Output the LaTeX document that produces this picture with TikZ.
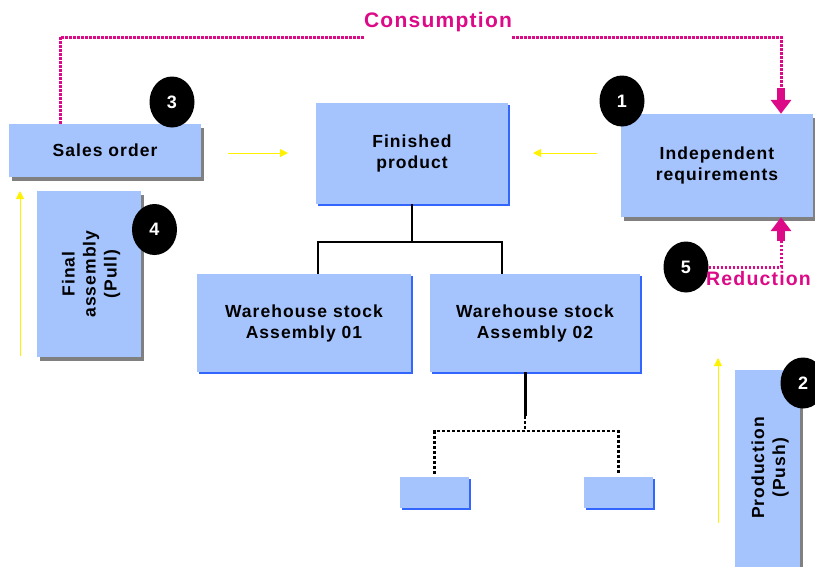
\documentclass[tikz,border=0pt]{standalone}
\usepackage{fontspec}
\setmainfont{Liberation Sans}
\newfontfamily\spacedfont[LetterSpace=6]{Liberation Sans}
\usetikzlibrary{shapes.geometric,arrows.meta,shadows}
\definecolor{boxblue}{RGB}{165,195,253}
\definecolor{edgeblue}{RGB}{51,102,255}
\definecolor{magent}{RGB}{220,10,135}
\definecolor{shadegray}{RGB}{128,128,128}
\tikzset{
  box/.style={fill=boxblue, inner sep=0pt, align=center, font=\spacedfont\bfseries\fontsize{17.5}{21}\selectfont},
  shadebox/.style={box, drop shadow={shadow xshift=3pt, shadow yshift=-4pt, fill=shadegray, opacity=1}},
  edgebox/.style={box, drop shadow={shadow xshift=2pt, shadow yshift=-2pt, fill=edgeblue, opacity=1}},
  boxtext/.style={inner sep=0pt, align=center, font=\spacedfont\bfseries\fontsize{17.5}{21}\selectfont},
  num/.style={ellipse, fill=black, text=white, minimum width=45pt, minimum height=51pt, inner sep=0pt, font=\bfseries\fontsize{18}{18}\selectfont},
  magtext/.style={text=magent, inner sep=0pt, font=\spacedfont\bfseries\fontsize{21}{21}\selectfont},
  magdot/.style={magent, line width=3pt, dash pattern=on 2.5pt off 1.5pt},
  magarrow/.style={magent, line width=8pt, -{Triangle[length=14pt,width=20pt]}},
  yarrow/.style={yellow, line width=1pt, -{Triangle[length=8pt,width=8pt]}},
  tree/.style={black, line width=2pt},
  treedot/.style={black, line width=2.5pt, dash pattern=on 3pt off 2pt}
}
\begin{document}
\begin{tikzpicture}[x=1pt, y=-1pt]
\useasboundingbox (0,0) rectangle (815,566);
\node[shadebox, minimum width=192pt, minimum height=53pt] (sales) at (105,150.5) {Sales order};
\node[shadebox, minimum width=104pt, minimum height=166pt] (final) at (89,274) {};
\node[boxtext, rotate=90] (finaltext) at (91,274) {Final\\assembly\\(Pull)};
\node[edgebox, minimum width=192pt, minimum height=101pt] (finished) at (412,153.5) {Finished\\product};
\node[shadebox, minimum width=192pt, minimum height=103pt] (indep) at (717,165.5) {Independent\\requirements};
\node[edgebox, minimum width=214pt, minimum height=98pt] (ws1) at (304,323) {Warehouse stock\\Assembly 01};
\node[edgebox, minimum width=210pt, minimum height=98pt] (ws2) at (535,323) {Warehouse stock\\Assembly 02};
\node[edgebox, minimum width=69pt, minimum height=31pt] (sub1) at (434.5,492.5) {};
\node[edgebox, minimum width=69pt, minimum height=31pt] (sub2) at (618.5,492.5) {};
\node[shadebox, minimum width=65pt, minimum height=198pt] (prod) at (767.5,469) {};
\node[boxtext, rotate=90] (prodtext) at (770,468) {Production\\(Push)};

\node[num] (n1) at (622,101) {1};
\node[num] (n2) at (803,383) {2};
\node[num] (n3) at (172,102) {3};
\node[num] (n4) at (154.5,229.5) {4};
\node[num] (n5) at (686,267) {5};

\draw[tree] (finished.south) -- ++(0,38) coordinate (tj);
\draw[tree] ([xshift=14pt]ws1.north) |- (tj) -| ([xshift=-33pt]ws2.north);
\draw[tree, line width=3pt] ([xshift=-10pt]ws2.south) -- ++(0,44) coordinate (sj);
\draw[treedot] (sj) -- ++(0,15) coordinate (sk);
\draw[treedot, shorten <=3pt, shorten >=3pt] (sub1.north) |- (sk) -| (sub2.north);

\coordinate (ya1) at (228,153);
\coordinate (ya2) at (288,153);
\coordinate (ya3) at (597,153);
\coordinate (ya4) at (533,153);
\coordinate (ya5) at (20,356);
\coordinate (ya6) at (20,191);
\coordinate (ya7) at (718,523);
\coordinate (ya8) at (718,358);
\draw[yarrow] (ya1) -- (ya2);
\draw[yarrow] (ya3) -- (ya4);
\draw[yarrow] (ya5) -- (ya6);
\draw[yarrow] (ya7) -- (ya8);

\node[magtext] (cons) at (438,22) {Consumption};
\coordinate (ctop) at (60,37);
\coordinate (cdrop) at (781,88);
\draw[magdot] (sales.north -| ctop) -- (ctop) -- (ctop -| cons.west);
\draw[magdot] (ctop -| cons.east) -| (cdrop);
\draw[magarrow] (cdrop) -- (indep.north -| cdrop);

\node[magtext, anchor=west, font=\spacedfont\bfseries\fontsize{19.5}{20}\selectfont] (red) at (706,279) {Reduction};
\coordinate (rrise) at (781,241);
\draw[magdot] (n5.east) -| (rrise);
\draw[magarrow] (rrise) -- (indep.south -| rrise);
\end{tikzpicture}
\end{document}
